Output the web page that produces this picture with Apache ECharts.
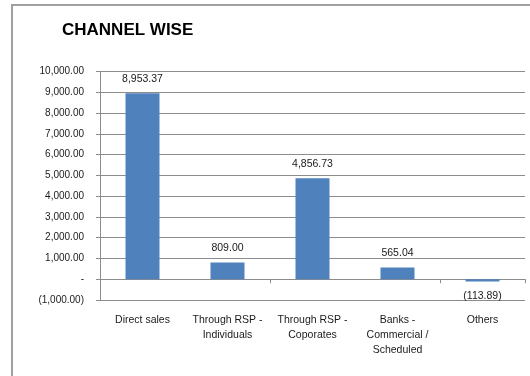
<!DOCTYPE html>
<html>
<head>
<meta charset="utf-8">
<script src="https://cdn.jsdelivr.net/npm/echarts@6/dist/echarts.min.js"></script>
<style>
  html, body { margin: 0; padding: 0; background: #ffffff; }
  #chart { width: 530px; height: 376px; }
</style>
</head>
<body>
<div id="chart"></div>
<script>
// Channel names and amounts
const categories = [
  'Direct sales',
  'Through RSP -\nIndividuals',
  'Through RSP -\nCoporates',
  'Banks -\nCommercial /\nScheduled',
  'Others'
];
const values = [8953.37, 809.00, 4856.73, 565.04, -113.89];
const yTicks = { min: -1000, max: 10000, interval: 1000 };

const FONT = '"Liberation Sans", Arial, sans-serif';
const TEXT = '#1a1a1a';
const GRID = '#8c8c8c';

// Accounting style: thousands separators, two decimals, negatives in brackets, zero as a dash
function fmt(v) {
  if (Math.abs(v) < 1e-9) return '-';
  const s = Math.abs(v).toLocaleString('en-US', { minimumFractionDigits: 2, maximumFractionDigits: 2 });
  return v < 0 ? '(' + s + ')' : s;
}

const barData = values.map(v => ({
  value: v,
  label: { position: v < 0 ? 'bottom' : 'top' }
}));

const chart = echarts.init(document.getElementById('chart'), null, { renderer: 'canvas' });
chart.setOption({
  animation: false,
  backgroundColor: '#ffffff',
  title: {
    text: 'CHANNEL WISE',
    left: 62,
    top: 22,
    padding: 0,
    textStyle: { fontFamily: FONT, fontSize: 17, fontWeight: 'bold', color: '#000000' }
  },
  graphic: [{
    type: 'rect',
    shape: { x: 12, y: 5, width: 560, height: 420 },
    style: { fill: 'none', stroke: '#a0a0a0', lineWidth: 2 },
    silent: true,
    z: -1
  }],
  grid: { left: 100, right: 5, top: 71.5, bottom: 76 },
  xAxis: [
    {
      type: 'category',
      data: categories,
      position: 'bottom',
      axisLine: { show: true, onZero: true, lineStyle: { color: GRID, width: 1 } },
      axisTick: { show: true, length: 4, lineStyle: { color: GRID } },
      axisLabel: { show: false },
      splitLine: { show: false }
    },
    {
      type: 'category',
      data: categories,
      position: 'bottom',
      axisLine: { show: false, onZero: false },
      axisTick: { show: false },
      axisLabel: {
        show: true,
        interval: 0,
        margin: 13,
        fontFamily: FONT,
        fontSize: 10.5,
        lineHeight: 15,
        color: TEXT
      },
      splitLine: { show: false }
    }
  ],
  yAxis: {
    type: 'value',
    min: yTicks.min,
    max: yTicks.max,
    interval: yTicks.interval,
    axisLine: { show: true, lineStyle: { color: GRID, width: 1 } },
    axisTick: { show: true, length: 4, lineStyle: { color: GRID } },
    axisLabel: {
      margin: 16,
      fontFamily: FONT,
      fontSize: 10,
      color: TEXT,
      formatter: fmt
    },
    splitLine: { show: true, lineStyle: { color: GRID, width: 1 } }
  },
  series: [{
    type: 'bar',
    xAxisIndex: 0,
    data: barData,
    barWidth: '40%',
    itemStyle: { color: '#4F81BD' },
    label: {
      show: true,
      distance: 9,
      fontFamily: FONT,
      fontSize: 10.5,
      color: TEXT,
      formatter: p => fmt(p.value)
    }
  }]
});
</script>
</body>
</html>
